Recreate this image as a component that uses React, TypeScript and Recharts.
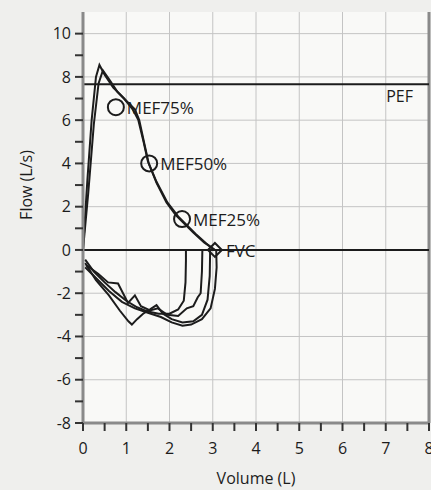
import { ComposedChart, Line, Scatter, XAxis, YAxis, CartesianGrid, ReferenceLine, Label, LabelList } from 'recharts'

// volume (L), flow (L/s)
const expiration1: [number, number][] = [
  [0, 0], [0.1, 3.2], [0.2, 6.0], [0.3, 8.0], [0.38, 8.55], [0.5, 8.1], [0.7, 7.5], [0.95, 7.0],
  [1.15, 6.5], [1.28, 6.0], [1.4, 5.0], [1.5, 4.1], [1.7, 3.1], [1.93, 2.2], [2.15, 1.6],
  [2.3, 1.3], [2.55, 0.8], [2.8, 0.35], [3.05, 0],
]
const expiration2: [number, number][] = [
  [0, 0], [0.12, 2.6], [0.25, 5.8], [0.36, 7.7], [0.46, 8.3], [0.6, 7.9], [0.8, 7.3], [1.0, 6.9],
  [1.2, 6.5], [1.3, 6.0], [1.42, 4.9], [1.52, 4.0], [1.7, 3.15], [1.95, 2.2], [2.2, 1.55],
  [2.35, 1.25], [2.6, 0.75], [2.85, 0.3], [3.05, 0],
]
const inspiration1: [number, number][] = [
  [0.05, -0.45], [0.25, -1.0], [0.5, -1.5], [0.75, -1.95], [1.0, -2.35], [1.25, -2.65], [1.5, -2.85],
  [1.75, -2.95], [2.0, -2.95], [2.2, -2.75], [2.33, -2.35], [2.37, -1.5], [2.38, -0.5], [2.38, 0],
]
const inspiration2: [number, number][] = [
  [0.07, -0.7], [0.35, -1.1], [0.58, -1.5], [0.81, -1.55], [1.04, -2.45], [1.2, -2.1], [1.34, -2.6],
  [1.55, -2.8], [1.73, -2.7], [1.95, -3.0], [2.2, -3.05], [2.4, -2.7], [2.55, -2.6], [2.65, -2.2],
  [2.72, -2.0], [2.75, -1.0], [2.76, 0],
]
const inspiration3: [number, number][] = [
  [0.05, -0.6], [0.3, -1.4], [0.6, -2.1], [0.85, -2.8], [1.05, -3.3], [1.13, -3.45], [1.25, -3.2],
  [1.39, -2.95], [1.55, -2.75], [1.7, -2.55], [1.85, -2.95], [2.05, -3.2], [2.3, -3.35], [2.55, -3.3],
  [2.75, -3.0], [2.88, -2.3], [2.93, -1.2], [2.94, 0],
]
const inspiration4: [number, number][] = [
  [0.05, -0.8], [0.3, -1.3], [0.6, -1.9], [0.9, -2.4], [1.2, -2.7], [1.5, -2.9], [1.8, -3.1],
  [2.05, -3.35], [2.3, -3.5], [2.5, -3.45], [2.75, -3.2], [2.95, -2.7], [3.05, -1.8], [3.09, -0.8], [3.08, 0],
]

const mefNames = ['MEF75%', 'MEF50%', 'MEF25%']
const mefVolume = [0.76, 1.53, 2.29]
const mefFlow = [6.6, 4.0, 1.43]

const fvcVolume = 3.05
const pefFlow = 7.66

const volumeTicks = [0, 0.5, 1, 1.5, 2, 2.5, 3, 3.5, 4, 4.5, 5, 5.5, 6, 6.5, 7, 7.5, 8]
const flowTicks = [-8, -7, -6, -5, -4, -3, -2, -1, 0, 1, 2, 3, 4, 5, 6, 7, 8, 9, 10]
const gridVolumes = [1, 2, 3, 4, 5, 6, 7, 8]
const gridFlows = [-6, -4, -2, 2, 4, 6, 8, 10]

const toRows = (pts: [number, number][]) => pts.map(([v, f]) => ({ v, f }))
const curves = [expiration1, expiration2, inspiration1, inspiration2, inspiration3, inspiration4].map(toRows)
const mefRows = mefNames.map((name, i) => ({ name, v: mefVolume[i], f: mefFlow[i] }))
const fvcRows = [{ name: 'FVC', v: fvcVolume, f: 0 }]

const ink = '#1c1c1c'
const font = '"Open Sans", sans-serif'

const MefLabel = (props: any) => (
  <text x={props.x + props.width / 2 + 11} y={props.y + props.height / 2 + 7} fontSize={17} fill={ink} fontFamily={font}>
    {props.value}
  </text>
)

export default function App() {
  return (
    <div style={{ position: 'absolute', left: 0, top: 0, width: 431, height: 490, background: '#efefed' }}>
      <ComposedChart width={431} height={490} margin={{ top: 12, right: 2, bottom: 0, left: 0 }}>
        <CartesianGrid
          stroke="#c4c4c4"
          strokeWidth={1}
          fill="#f9f9f7"
          verticalValues={gridVolumes}
          horizontalValues={gridFlows}
        />
        <XAxis
          dataKey="v"
          type="number"
          domain={[0, 8]}
          ticks={volumeTicks}
          interval={0}
          tickFormatter={(t: number) => (Number.isInteger(t) ? String(t) : '')}
          height={67}
          tickSize={8}
          tickMargin={12}
          axisLine={{ stroke: '#8a8a8a', strokeWidth: 3 }}
          tickLine={{ stroke: '#333', strokeWidth: 2 }}
          tick={{ fill: ink, fontSize: 16, fontFamily: font }}
        >
          <Label value="Volume (L)" position="insideBottom" offset={6} fill={ink} fontSize={16} fontFamily={font} />
        </XAxis>
        <YAxis
          dataKey="f"
          type="number"
          domain={[-8, 11]}
          ticks={flowTicks}
          interval={0}
          tickFormatter={(t: number) => (t % 2 === 0 ? String(t) : '')}
          width={83}
          tickSize={8}
          tickMargin={4}
          axisLine={{ stroke: '#8a8a8a', strokeWidth: 3 }}
          tickLine={{ stroke: '#333', strokeWidth: 2 }}
          tick={{ fill: ink, fontSize: 16, fontFamily: font }}
        >
          <Label
            content={() => (
              <text x={26} y={185} transform="rotate(-90, 26, 185)" textAnchor="middle" dominantBaseline="central" fontSize={16} fill={ink} fontFamily={font}>
                Flow (L/s)
              </text>
            )}
          />
        </YAxis>
        <ReferenceLine x={8} stroke="#8a8a8a" strokeWidth={3} />
        <ReferenceLine y={0} stroke={ink} strokeWidth={2} />
        <ReferenceLine
          y={pefFlow}
          stroke={ink}
          strokeWidth={2}
          label={(p: any) => (
            <text x={p.viewBox.x + p.viewBox.width - 16} y={p.viewBox.y + 18} textAnchor="end" fontSize={16} fill={ink} fontFamily={font}>
              PEF
            </text>
          )}
        />
        {curves.map((rows, i) => (
          <Line
            key={i}
            data={rows}
            dataKey="f"
            type="linear"
            stroke={ink}
            strokeWidth={2}
            dot={false}
            activeDot={false}
            isAnimationActive={false}
          />
        ))}
        <Scatter
          data={mefRows}
          dataKey="f"
          isAnimationActive={false}
          shape={(p: any) => <circle cx={p.cx} cy={p.cy} r={8} fill="none" stroke={ink} strokeWidth={2} />}
        >
          <LabelList dataKey="name" content={MefLabel} />
        </Scatter>
        <Scatter
          data={fvcRows}
          dataKey="f"
          isAnimationActive={false}
          shape={(p: any) => (
            <polygon
              points={`${p.cx - 7},${p.cy} ${p.cx},${p.cy - 7} ${p.cx + 7},${p.cy} ${p.cx},${p.cy + 7}`}
              fill="none"
              stroke={ink}
              strokeWidth={2}
            />
          )}
        >
          <LabelList dataKey="name" content={MefLabel} />
        </Scatter>
      </ComposedChart>
    </div>
  )
}
